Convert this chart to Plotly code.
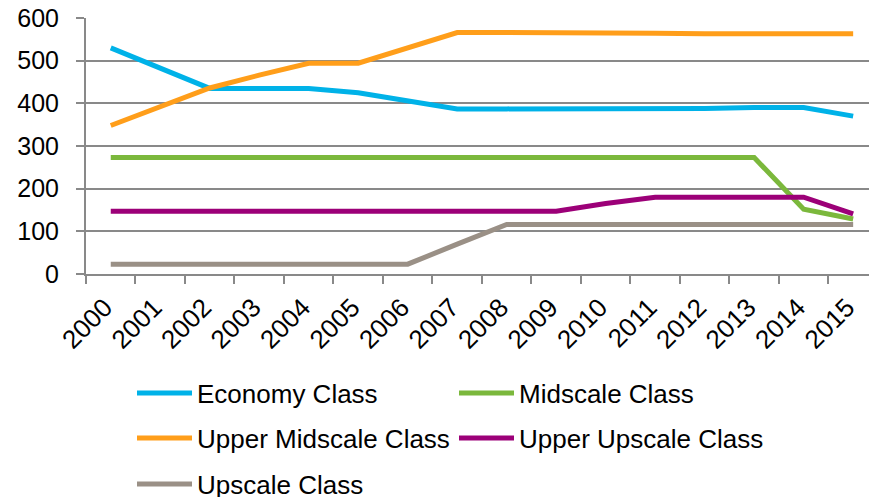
import plotly.graph_objects as go

years = [str(y) for y in range(2000, 2016)]
economy = [530, 483, 435, 435, 435, 425, 405, 387, 387, 387, 387, 387, 388, 390, 390, 370]
midscale = [273, 273, 273, 273, 273, 273, 273, 273, 273, 273, 273, 273, 273, 273, 152, 129]
upper_midscale = [348, 392, 436, 466, 494, 494, 530, 566, 566, 566, 566, 564, 563, 563, 563, 563]
upper_upscale = [147, 147, 147, 147, 147, 147, 147, 147, 147, 147, 165, 180, 180, 180, 180, 141]
upscale = [23, 23, 23, 23, 23, 23, 23, 70, 116, 116, 116, 116, 116, 116, 116, 116]

series = [
    ("Economy Class", economy, "#00B2E8", "legend"),
    ("Midscale Class", midscale, "#7BB83C", "legend"),
    ("Upper Midscale Class", upper_midscale, "#FF9E1A", "legend2"),
    ("Upper Upscale Class", upper_upscale, "#9C0078", "legend2"),
    ("Upscale Class", upscale, "#9A9086", "legend3"),
]

FONT = "Liberation Sans, Arial, sans-serif"
W, H = 869, 497

fig = go.Figure()
for name, vals, color, lg in series:
    fig.add_trace(go.Scatter(
        x=years, y=vals, name=name, mode="lines",
        line=dict(color=color, width=5),
        legend=lg, hoverinfo="skip",
    ))

leg_common = dict(
    orientation="h", xref="container", yref="container",
    xanchor="left", yanchor="middle",
    entrywidth=252, entrywidthmode="pixels",
    itemwidth=55, font=dict(family=FONT, size=26, color="#000000"),
    bgcolor="rgba(0,0,0,0)", borderwidth=0,
    itemclick=False, itemdoubleclick=False,
)

def lx(px):
    return px / W

def ly(py):
    return 1 - py / H

fig.update_layout(
    width=W, height=H,
    margin=dict(l=86, r=0, t=18, b=H - 274),
    paper_bgcolor="white", plot_bgcolor="white",
    font=dict(family=FONT, size=25, color="#000000"),
    xaxis=dict(
        type="category", range=[-0.5, 15.32],
        tickson="boundaries", ticks="outside", ticklen=8, tickwidth=2,
        tickcolor="#898989", showline=True, linecolor="#898989", linewidth=2,
        showgrid=False, tickangle=-45, tickfont=dict(size=26),
        ticklabelshift=-6, ticklabelstandoff=6, ticklabeloverflow="allow",
    ),
    yaxis=dict(
        range=[0, 600], dtick=100, tick0=0,
        ticks="outside", ticklen=8, tickwidth=2, tickcolor="#898989",
        showline=True, linecolor="#898989", linewidth=2,
        showgrid=True, gridcolor="#898989", gridwidth=2,
        zeroline=False, tickfont=dict(size=25), ticklabelstandoff=12,
        ticklabeloverflow="allow",
    ),
    legend=dict(leg_common, x=lx(132), y=ly(393)),
    legend2=dict(leg_common, x=lx(132), y=ly(438)),
    legend3=dict(leg_common, x=lx(132), y=ly(484)),
    showlegend=True,
)

fig.write_html(
    "out.html",
    config={"displayModeBar": False},
    post_script="document.body.style.margin='0';",
)
